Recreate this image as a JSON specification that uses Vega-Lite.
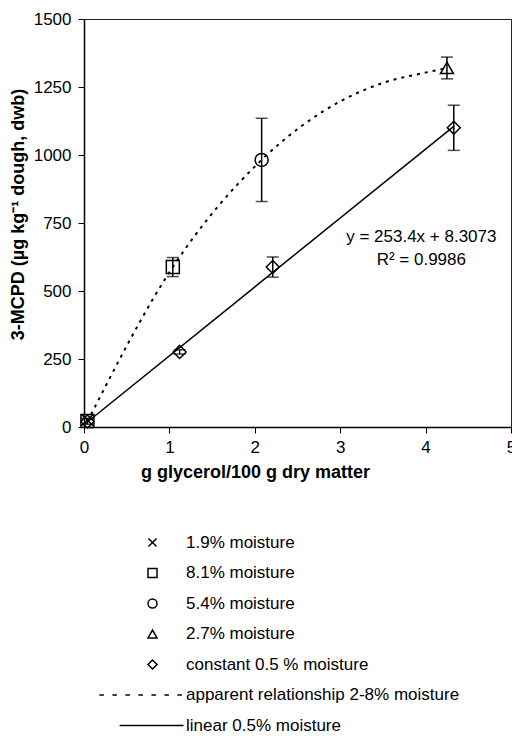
{
  "$schema": "https://vega.github.io/schema/vega-lite/v6.json",
  "width": 427,
  "height": 408,
  "autosize": {"type": "none"},
  "padding": {"left": 84, "top": 19, "right": 1, "bottom": 309},
  "background": "white",
  "config": {
    "view": {"stroke": "#222", "strokeWidth": 1},
    "font": "Liberation Sans",
    "axis": {
      "grid": false,
      "domainColor": "black",
      "domainWidth": 1.5,
      "tickColor": "black",
      "tickSize": 6,
      "tickWidth": 1,
      "labelColor": "black",
      "labelFont": "Liberation Sans",
      "labelFontSize": 17,
      "labelFlush": false,
      "labelOverlap": false,
      "titleFont": "Liberation Sans",
      "titleFontSize": 18,
      "titleFontWeight": "bold",
      "titleColor": "black"
    }
  },
  "datasets": {
    "pts": [
      {"series": "1.9% moisture", "x": 0.04, "y": 25},
      {"series": "8.1% moisture", "x": 0.04, "y": 22},
      {"series": "8.1% moisture", "x": 1.04, "y": 588},
      {"series": "5.4% moisture", "x": 2.08, "y": 982},
      {"series": "2.7% moisture", "x": 4.25, "y": 1320},
      {"series": "constant 0.5 % moisture", "x": 0.04, "y": 20},
      {"series": "constant 0.5 % moisture", "x": 1.12, "y": 276},
      {"series": "constant 0.5 % moisture", "x": 2.21, "y": 588},
      {"series": "constant 0.5 % moisture", "x": 4.33, "y": 1100}
    ],
    "errs": [
      {"x": 0.04, "lo": 10, "hi": 32},
      {"x": 1.04, "lo": 553, "hi": 623},
      {"x": 2.08, "lo": 829, "hi": 1135},
      {"x": 4.25, "lo": 1280, "hi": 1360},
      {"x": 1.12, "lo": 268, "hi": 284},
      {"x": 2.21, "lo": 551, "hi": 625},
      {"x": 4.33, "lo": 1017, "hi": 1183}
    ],
    "curve": [
      {"x": 0.04, "y": 20},
      {"x": 1.04, "y": 588},
      {"x": 2.08, "y": 982},
      {"x": 3.03, "y": 1202},
      {"x": 3.5, "y": 1265},
      {"x": 4.03, "y": 1305},
      {"x": 4.25, "y": 1320}
    ],
    "fit": [
      {"x": 0, "y": 8.3},
      {"x": 4.33, "y": 1105.5}
    ],
    "eq": [
      {"x": 3.95, "y": 698, "t": "y = 253.4x + 8.3073"},
      {"x": 3.95, "y": 614, "t": "R² = 0.9986"}
    ]
  },
  "layer": [
    {
      "data": {"name": "curve"},
      "mark": {"type": "line", "color": "black", "strokeWidth": 2, "strokeDash": [3, 5], "interpolate": "monotone"},
      "encoding": {
        "x": {"field": "x", "type": "quantitative", "scale": {"domain": [0, 5], "nice": false}, "axis": {"values": [0, 1, 2, 3, 4, 5], "format": "d", "title": "g glycerol/100 g dry matter", "labelPadding": 6, "titleX": 171, "titleY": 45, "titleBaseline": "middle", "titleAlign": "center"}},
        "y": {"field": "y", "type": "quantitative", "scale": {"domain": [0, 1500], "nice": false}, "axis": {"values": [0, 250, 500, 750, 1000, 1250, 1500], "format": "d", "title": "3-MCPD (µg kg⁻¹ dough, dwb)", "labelPadding": 7, "titleX": -66, "titleY": 195, "titleAngle": -90, "titleBaseline": "middle", "titleAlign": "center"}}
      }
    },
    {
      "data": {"name": "fit"},
      "mark": {"type": "line", "color": "black", "strokeWidth": 1.5},
      "encoding": {
        "x": {"field": "x", "type": "quantitative"},
        "y": {"field": "y", "type": "quantitative"}
      }
    },
    {
      "data": {"name": "errs"},
      "mark": {"type": "rule", "color": "black", "strokeWidth": 1.5},
      "encoding": {
        "x": {"field": "x", "type": "quantitative"},
        "y": {"field": "lo", "type": "quantitative"},
        "y2": {"field": "hi"}
      }
    },
    {
      "data": {"name": "errs"},
      "mark": {"type": "tick", "orient": "horizontal", "color": "black", "size": 12, "thickness": 1.5},
      "encoding": {
        "x": {"field": "x", "type": "quantitative"},
        "y": {"field": "lo", "type": "quantitative"}
      }
    },
    {
      "data": {"name": "errs"},
      "mark": {"type": "tick", "orient": "horizontal", "color": "black", "size": 12, "thickness": 1.5},
      "encoding": {
        "x": {"field": "x", "type": "quantitative"},
        "y": {"field": "hi", "type": "quantitative"}
      }
    },
    {
      "data": {"name": "pts"},
      "mark": {"type": "point", "filled": false, "color": "black", "strokeWidth": 1.5, "size": 169, "opacity": 1},
      "encoding": {
        "x": {"field": "x", "type": "quantitative"},
        "y": {"field": "y", "type": "quantitative"},
        "shape": {
          "field": "series",
          "type": "nominal",
          "scale": {
            "domain": ["1.9% moisture", "8.1% moisture", "5.4% moisture", "2.7% moisture", "constant 0.5 % moisture", "apparent relationship 2-8% moisture", "linear 0.5% moisture"],
            "range": ["M-0.9,-0.9L0.9,0.9M0.9,-0.9L-0.9,0.9", "square", "circle", "triangle-up", "diamond", "M-11.8,0h1M-8.91,0h1M-6.02,0h1M-3.13,0h1M-0.24,0h1M2.65,0h1M5.54,0h1", "M-7.3,0H6.9"]
          },
          "legend": {
            "title": null,
            "orient": "none",
            "legendX": 60,
            "legendY": 515,
            "direction": "vertical",
            "padding": 0,
            "symbolSize": 81,
            "symbolStrokeWidth": 1.5,
            "symbolStrokeColor": "black",
            "symbolFillColor": "transparent",
            "labelFont": "Liberation Sans",
            "labelFontSize": 17,
            "labelColor": "black",
            "labelOffset": 25,
            "labelLimit": 400,
            "rowPadding": 12.5
          }
        }
      }
    },
    {
      "data": {"name": "eq"},
      "mark": {"type": "text", "font": "Liberation Sans", "fontSize": 17, "color": "black", "align": "center", "baseline": "middle"},
      "encoding": {
        "x": {"field": "x", "type": "quantitative"},
        "y": {"field": "y", "type": "quantitative"},
        "text": {"field": "t"}
      }
    }
  ]
}
